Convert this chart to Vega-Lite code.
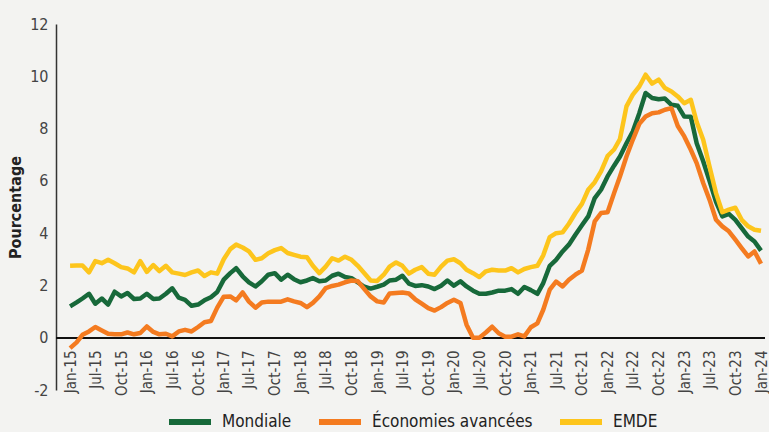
{
  "$schema": "https://vega.github.io/schema/vega-lite/v6.json",
  "width": 709,
  "height": 366,
  "autosize": "none",
  "padding": {"left": 56, "top": 24, "right": 4, "bottom": 42},
  "background": "#f3f3f1",
  "config": {
    "view": {"stroke": null},
    "font": "DejaVu Sans Condensed, Roboto, sans-serif"
  },
  "data": {
    "values": [
      {"date":"2015-01-01","Mondiale":1.2,"Économies avancées":-0.4,"EMDE":2.75},
      {"date":"2015-02-01","Mondiale":1.35,"Économies avancées":-0.18,"EMDE":2.76},
      {"date":"2015-03-01","Mondiale":1.5,"Économies avancées":0.11,"EMDE":2.76},
      {"date":"2015-04-01","Mondiale":1.68,"Économies avancées":0.24,"EMDE":2.5},
      {"date":"2015-05-01","Mondiale":1.3,"Économies avancées":0.41,"EMDE":2.93},
      {"date":"2015-06-01","Mondiale":1.5,"Économies avancées":0.28,"EMDE":2.85},
      {"date":"2015-07-01","Mondiale":1.27,"Économies avancées":0.15,"EMDE":2.98},
      {"date":"2015-08-01","Mondiale":1.76,"Économies avancées":0.13,"EMDE":2.85},
      {"date":"2015-09-01","Mondiale":1.58,"Économies avancées":0.13,"EMDE":2.7},
      {"date":"2015-10-01","Mondiale":1.71,"Économies avancées":0.2,"EMDE":2.65},
      {"date":"2015-11-01","Mondiale":1.48,"Économies avancées":0.13,"EMDE":2.5},
      {"date":"2015-12-01","Mondiale":1.5,"Économies avancées":0.18,"EMDE":2.93},
      {"date":"2016-01-01","Mondiale":1.68,"Économies avancées":0.43,"EMDE":2.52},
      {"date":"2016-02-01","Mondiale":1.48,"Économies avancées":0.22,"EMDE":2.78},
      {"date":"2016-03-01","Mondiale":1.5,"Économies avancées":0.13,"EMDE":2.55},
      {"date":"2016-04-01","Mondiale":1.68,"Économies avancées":0.15,"EMDE":2.75},
      {"date":"2016-05-01","Mondiale":1.89,"Économies avancées":0.05,"EMDE":2.5},
      {"date":"2016-06-01","Mondiale":1.53,"Économies avancées":0.24,"EMDE":2.45},
      {"date":"2016-07-01","Mondiale":1.45,"Économies avancées":0.3,"EMDE":2.4},
      {"date":"2016-08-01","Mondiale":1.22,"Économies avancées":0.24,"EMDE":2.5},
      {"date":"2016-09-01","Mondiale":1.27,"Économies avancées":0.41,"EMDE":2.57},
      {"date":"2016-10-01","Mondiale":1.43,"Économies avancées":0.59,"EMDE":2.36},
      {"date":"2016-11-01","Mondiale":1.55,"Économies avancées":0.64,"EMDE":2.5},
      {"date":"2016-12-01","Mondiale":1.75,"Économies avancées":1.15,"EMDE":2.45},
      {"date":"2017-01-01","Mondiale":2.22,"Économies avancées":1.57,"EMDE":3.0},
      {"date":"2017-02-01","Mondiale":2.47,"Économies avancées":1.58,"EMDE":3.39},
      {"date":"2017-03-01","Mondiale":2.66,"Économies avancées":1.43,"EMDE":3.56},
      {"date":"2017-04-01","Mondiale":2.35,"Économies avancées":1.73,"EMDE":3.45},
      {"date":"2017-05-01","Mondiale":2.12,"Économies avancées":1.38,"EMDE":3.3},
      {"date":"2017-06-01","Mondiale":1.96,"Économies avancées":1.15,"EMDE":2.98},
      {"date":"2017-07-01","Mondiale":2.16,"Économies avancées":1.35,"EMDE":3.04},
      {"date":"2017-08-01","Mondiale":2.41,"Économies avancées":1.38,"EMDE":3.23},
      {"date":"2017-09-01","Mondiale":2.47,"Économies avancées":1.38,"EMDE":3.35},
      {"date":"2017-10-01","Mondiale":2.22,"Économies avancées":1.38,"EMDE":3.43},
      {"date":"2017-11-01","Mondiale":2.41,"Économies avancées":1.47,"EMDE":3.24},
      {"date":"2017-12-01","Mondiale":2.24,"Économies avancées":1.39,"EMDE":3.17},
      {"date":"2018-01-01","Mondiale":2.12,"Économies avancées":1.33,"EMDE":3.1},
      {"date":"2018-02-01","Mondiale":2.19,"Économies avancées":1.17,"EMDE":3.08},
      {"date":"2018-03-01","Mondiale":2.28,"Économies avancées":1.33,"EMDE":2.75},
      {"date":"2018-04-01","Mondiale":2.16,"Économies avancées":1.58,"EMDE":2.47},
      {"date":"2018-05-01","Mondiale":2.19,"Économies avancées":1.9,"EMDE":2.72},
      {"date":"2018-06-01","Mondiale":2.37,"Économies avancées":1.98,"EMDE":3.04},
      {"date":"2018-07-01","Mondiale":2.45,"Économies avancées":2.03,"EMDE":2.95},
      {"date":"2018-08-01","Mondiale":2.32,"Économies avancées":2.12,"EMDE":3.1},
      {"date":"2018-09-01","Mondiale":2.28,"Économies avancées":2.19,"EMDE":2.98},
      {"date":"2018-10-01","Mondiale":2.12,"Économies avancées":2.16,"EMDE":2.75},
      {"date":"2018-11-01","Mondiale":1.95,"Économies avancées":1.86,"EMDE":2.47},
      {"date":"2018-12-01","Mondiale":1.88,"Économies avancées":1.58,"EMDE":2.19},
      {"date":"2019-01-01","Mondiale":1.95,"Économies avancées":1.39,"EMDE":2.17},
      {"date":"2019-02-01","Mondiale":2.03,"Économies avancées":1.35,"EMDE":2.41},
      {"date":"2019-03-01","Mondiale":2.19,"Économies avancées":1.69,"EMDE":2.72},
      {"date":"2019-04-01","Mondiale":2.22,"Économies avancées":1.71,"EMDE":2.88},
      {"date":"2019-05-01","Mondiale":2.37,"Économies avancées":1.73,"EMDE":2.75},
      {"date":"2019-06-01","Mondiale":2.07,"Économies avancées":1.69,"EMDE":2.45},
      {"date":"2019-07-01","Mondiale":1.98,"Économies avancées":1.47,"EMDE":2.6},
      {"date":"2019-08-01","Mondiale":2.01,"Économies avancées":1.3,"EMDE":2.7},
      {"date":"2019-09-01","Mondiale":1.96,"Économies avancées":1.13,"EMDE":2.45},
      {"date":"2019-10-01","Mondiale":1.86,"Économies avancées":1.04,"EMDE":2.41},
      {"date":"2019-11-01","Mondiale":1.99,"Économies avancées":1.17,"EMDE":2.72},
      {"date":"2019-12-01","Mondiale":2.19,"Économies avancées":1.33,"EMDE":2.95},
      {"date":"2020-01-01","Mondiale":1.99,"Économies avancées":1.45,"EMDE":3.0},
      {"date":"2020-02-01","Mondiale":2.16,"Économies avancées":1.33,"EMDE":2.85},
      {"date":"2020-03-01","Mondiale":1.96,"Économies avancées":0.5,"EMDE":2.6},
      {"date":"2020-04-01","Mondiale":1.8,"Économies avancées":0.0,"EMDE":2.47},
      {"date":"2020-05-01","Mondiale":1.68,"Économies avancées":0.0,"EMDE":2.32},
      {"date":"2020-06-01","Mondiale":1.68,"Économies avancées":0.2,"EMDE":2.54},
      {"date":"2020-07-01","Mondiale":1.73,"Économies avancées":0.42,"EMDE":2.6},
      {"date":"2020-08-01","Mondiale":1.8,"Économies avancées":0.17,"EMDE":2.57},
      {"date":"2020-09-01","Mondiale":1.8,"Économies avancées":0.04,"EMDE":2.57},
      {"date":"2020-10-01","Mondiale":1.86,"Économies avancées":0.04,"EMDE":2.66},
      {"date":"2020-11-01","Mondiale":1.68,"Économies avancées":0.13,"EMDE":2.5},
      {"date":"2020-12-01","Mondiale":1.94,"Économies avancées":0.05,"EMDE":2.63},
      {"date":"2021-01-01","Mondiale":1.82,"Économies avancées":0.4,"EMDE":2.7},
      {"date":"2021-02-01","Mondiale":1.68,"Économies avancées":0.55,"EMDE":2.75},
      {"date":"2021-03-01","Mondiale":2.09,"Économies avancées":1.07,"EMDE":3.15},
      {"date":"2021-04-01","Mondiale":2.75,"Économies avancées":1.84,"EMDE":3.85},
      {"date":"2021-05-01","Mondiale":2.98,"Économies avancées":2.15,"EMDE":4.0},
      {"date":"2021-06-01","Mondiale":3.3,"Économies avancées":1.96,"EMDE":4.03},
      {"date":"2021-07-01","Mondiale":3.56,"Économies avancées":2.22,"EMDE":4.36},
      {"date":"2021-08-01","Mondiale":3.94,"Économies avancées":2.41,"EMDE":4.77},
      {"date":"2021-09-01","Mondiale":4.3,"Économies avancées":2.57,"EMDE":5.12},
      {"date":"2021-10-01","Mondiale":4.64,"Économies avancées":3.37,"EMDE":5.66},
      {"date":"2021-11-01","Mondiale":5.34,"Économies avancées":4.45,"EMDE":5.95},
      {"date":"2021-12-01","Mondiale":5.66,"Économies avancées":4.77,"EMDE":6.36},
      {"date":"2022-01-01","Mondiale":6.17,"Économies avancées":4.8,"EMDE":6.95},
      {"date":"2022-02-01","Mondiale":6.58,"Économies avancées":5.53,"EMDE":7.2},
      {"date":"2022-03-01","Mondiale":6.93,"Économies avancées":6.17,"EMDE":7.6},
      {"date":"2022-04-01","Mondiale":7.44,"Économies avancées":6.93,"EMDE":8.85},
      {"date":"2022-05-01","Mondiale":7.89,"Économies avancées":7.57,"EMDE":9.3},
      {"date":"2022-06-01","Mondiale":8.59,"Économies avancées":8.18,"EMDE":9.61},
      {"date":"2022-07-01","Mondiale":9.36,"Économies avancées":8.46,"EMDE":10.06},
      {"date":"2022-08-01","Mondiale":9.17,"Économies avancées":8.59,"EMDE":9.72},
      {"date":"2022-09-01","Mondiale":9.12,"Économies avancées":8.62,"EMDE":9.87},
      {"date":"2022-10-01","Mondiale":9.15,"Économies avancées":8.72,"EMDE":9.55},
      {"date":"2022-11-01","Mondiale":8.91,"Économies avancées":8.78,"EMDE":9.42},
      {"date":"2022-12-01","Mondiale":8.87,"Économies avancées":8.1,"EMDE":9.23},
      {"date":"2023-01-01","Mondiale":8.46,"Économies avancées":7.7,"EMDE":8.97},
      {"date":"2023-02-01","Mondiale":8.45,"Économies avancées":7.19,"EMDE":9.1},
      {"date":"2023-03-01","Mondiale":7.44,"Économies avancées":6.68,"EMDE":8.25},
      {"date":"2023-04-01","Mondiale":6.75,"Économies avancées":5.92,"EMDE":7.57},
      {"date":"2023-05-01","Mondiale":6.0,"Économies avancées":5.28,"EMDE":6.55},
      {"date":"2023-06-01","Mondiale":5.2,"Économies avancées":4.51,"EMDE":5.53},
      {"date":"2023-07-01","Mondiale":4.64,"Économies avancées":4.26,"EMDE":4.8},
      {"date":"2023-08-01","Mondiale":4.74,"Économies avancées":4.07,"EMDE":4.9},
      {"date":"2023-09-01","Mondiale":4.51,"Économies avancées":3.75,"EMDE":4.97},
      {"date":"2023-10-01","Mondiale":4.19,"Économies avancées":3.43,"EMDE":4.51},
      {"date":"2023-11-01","Mondiale":3.87,"Économies avancées":3.11,"EMDE":4.26},
      {"date":"2023-12-01","Mondiale":3.68,"Économies avancées":3.3,"EMDE":4.13},
      {"date":"2024-01-01","Mondiale":3.33,"Économies avancées":2.83,"EMDE":4.09}
    ]
  },
  "layer": [
    {
      "mark": {"type": "rule", "color": "#111111", "strokeWidth": 1.5},
      "encoding": {"y": {"datum": 0, "type": "quantitative"}}
    },
    {
      "transform": [{"fold": ["Mondiale", "Économies avancées", "EMDE"], "as": ["serie", "valeur"]}],
      "mark": {"type": "line", "strokeWidth": 4.5, "strokeJoin": "round", "strokeCap": "butt"},
      "encoding": {
        "x": {
          "field": "date",
          "type": "temporal",
          "scale": {
            "type": "utc",
            "domain": [{"year": 2014, "month": 10, "date": 26, "utc": true}, {"year": 2024, "month": 1, "date": 20, "utc": true}]
          },
          "axis": {
            "title": null,
            "orient": "bottom",
            "offset": -52,
            "domain": false,
            "ticks": false,
            "grid": false,
            "tickCount": {"interval": "month", "step": 4},
            "labelExpr": "(utcmonth(datum.value)==0?'Jan':utcmonth(datum.value)==4?'Jul':'Oct')+'-'+utcFormat(datum.value,'%y')",
            "labelAngle": -90,
            "labelAlign": "right",
            "labelBaseline": "middle",
            "labelPadding": 12,
            "labelFontSize": 15,
            "labelColor": "#444444",
            "labelOverlap": false,
            "labelFlush": false
          }
        },
        "y": {
          "field": "valeur",
          "type": "quantitative",
          "scale": {"domain": [-2, 12], "nice": false, "zero": false},
          "axis": {
            "title": "Pourcentage",
            "titleFontWeight": "bold",
            "titleFontSize": 16,
            "titleColor": "#222222",
            "titlePadding": 6,
            "values": [-2, 0, 2, 4, 6, 8, 10, 12],
            "labelExpr": "datum.value < 0 ? '-' + abs(datum.value) : '' + datum.value",
            "grid": false,
            "ticks": false,
            "domain": true,
            "domainColor": "#333333",
            "domainWidth": 1.5,
            "labelPadding": 8,
            "labelFontSize": 16,
            "labelColor": "#444444"
          }
        },
        "color": {
          "field": "serie",
          "type": "nominal",
          "scale": {
            "domain": ["Mondiale", "Économies avancées", "EMDE"],
            "range": ["#17693a", "#f47b20", "#fdc51c"]
          },
          "legend": {
            "title": null,
            "orient": "none",
            "direction": "horizontal",
            "legendX": 110,
            "legendY": 374,
            "symbolType": "stroke",
            "symbolSize": 1764,
            "symbolStrokeWidth": 6,
            "labelFontSize": 17,
            "labelLimit": 400,
            "labelColor": "#222222",
            "labelOffset": 8,
            "columnPadding": 15
          }
        }
      }
    }
  ]
}
